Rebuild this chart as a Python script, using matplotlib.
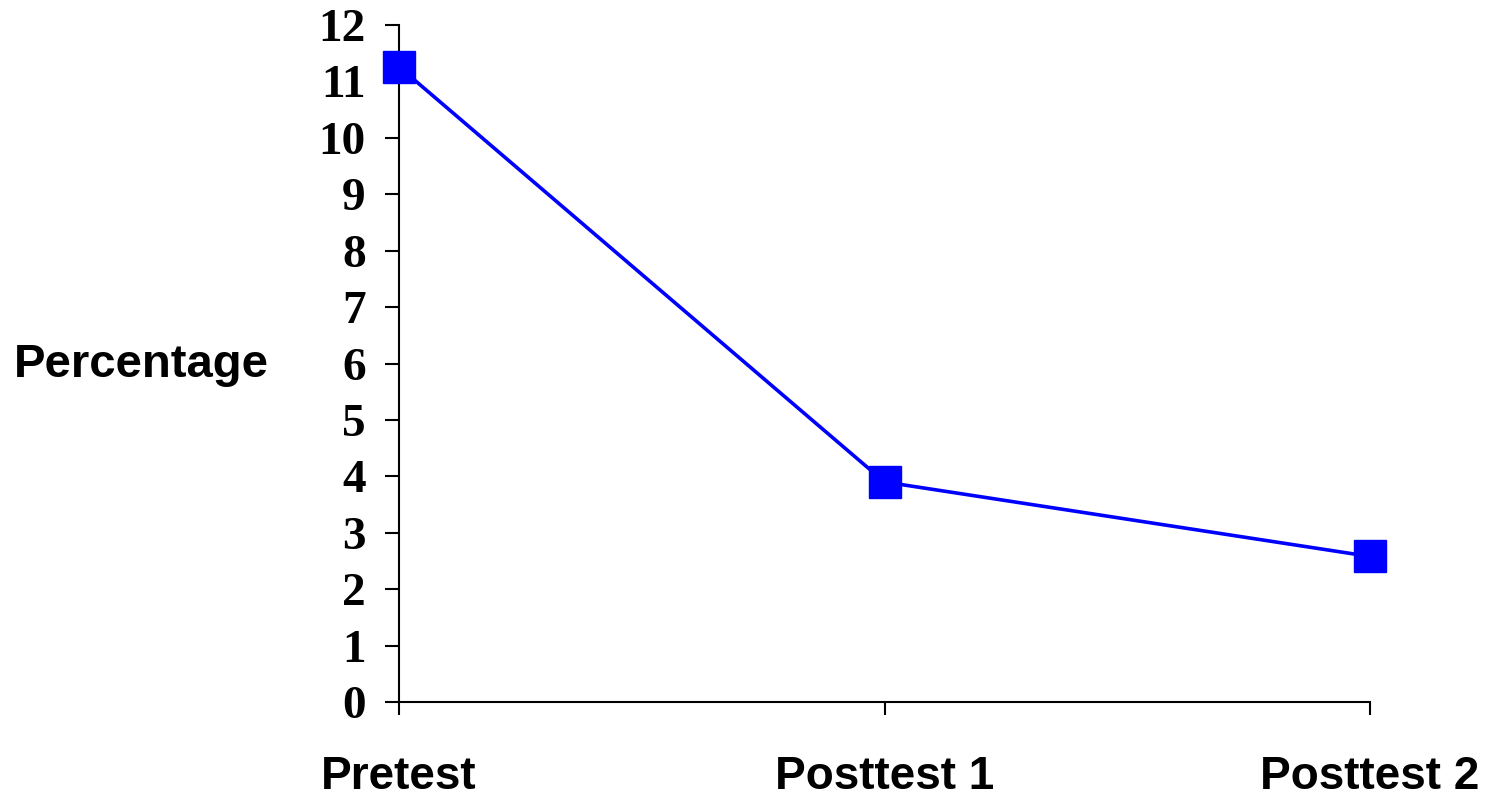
import matplotlib
matplotlib.use("Agg")
import matplotlib.pyplot as plt

categories = ["Pretest", "Posttest 1", "Posttest 2"]
percentage = [11.26, 3.9, 2.58]
y_ticks = list(range(0, 13))

fig = plt.figure(figsize=(14.9, 7.98), dpi=100)
ax = fig.add_axes([399 / 1490, 1 - 702 / 798, (1370 - 399) / 1490, (702 - 25) / 798])

x = list(range(len(categories)))
ax.plot(x, percentage, color="#0000ff", lw=2.6, marker="s", ms=23,
        markeredgecolor="#0000ff", clip_on=False, zorder=3)

ax.set_xlim(0, len(categories) - 1)
ax.set_ylim(0, 12)
ax.set_yticks(y_ticks)
ax.set_xticks(x)
ax.set_xticklabels(categories, fontfamily="Liberation Sans", fontweight="bold", fontsize=33)
ax.set_yticklabels([str(t) for t in y_ticks], fontfamily="Liberation Serif",
                   fontweight="bold", fontsize=34)

for side in ["top", "right"]:
    ax.spines[side].set_visible(False)
for side in ["left", "bottom"]:
    ax.spines[side].set_linewidth(1.5)

ax.tick_params(axis="y", length=10, width=1.5, pad=14)
ax.tick_params(axis="x", length=9, width=1.5, pad=29)

fig.text(141 / 1490, 1 - 365 / 798, "Percentage", ha="center", va="center",
         fontfamily="Liberation Sans", fontweight="bold", fontsize=34)

fig.savefig("out.png", dpi=100)
